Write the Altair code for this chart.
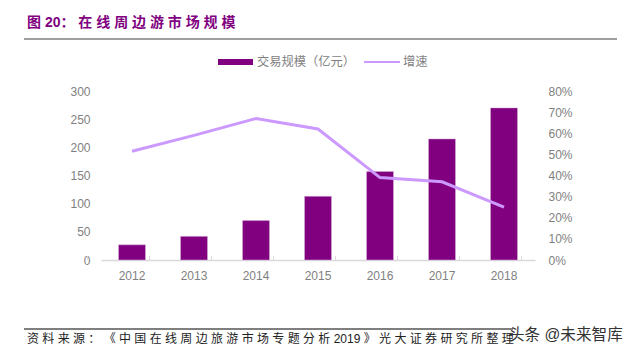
import altair as alt
import pandas as pd

years = ["2012", "2013", "2014", "2015", "2016", "2017", "2018"]
volume = [27, 42, 70, 113, 157, 215, 270]
growth = [0.515, 0.59, 0.67, 0.62, 0.39, 0.37, 0.25]
bar_name = "交易规模（亿元）"
line_name = "增速"
PURPLE = "#800080"
LILAC = "#cc99ff"
GREY = "#7f7f7f"
SANS = "Liberation Sans, Noto Sans CJK SC"
title_text = "图 20：  在 线 周 边 游 市 场 规 模"
source_text = "资 料 来 源 ： 《 中 国 在 线 周 边 旅 游 市 场 专 题 分 析  2019 》 光 大 证 券 研 究 所 整 理"
mark_text = "头条 @未来智库"

df = pd.DataFrame({"year": years, "volume": volume, "growth": growth})
W, H = 434, 169
L, T = 93, 83
INNER = 0.565
STEP = W / len(years)

x = alt.X("year:N", title=None, scale=alt.Scale(paddingInner=INNER, paddingOuter=INNER / 2),
          axis=alt.Axis(labelAngle=0, labelColor=GREY, labelFontSize=12, labelFont=SANS,
                        domainColor="#d9d9d9", domainWidth=1.5, ticks=False, labelPadding=10))
bars = alt.Chart(df).mark_bar(color=PURPLE, stroke="#d9b3d9", strokeWidth=0.5).encode(
    x=x,
    y=alt.Y("volume:Q", title=None,
            scale=alt.Scale(domain=[0, 300]),
            axis=alt.Axis(values=[0, 50, 100, 150, 200, 250, 300], grid=False, domain=False, ticks=False,
                          labelColor=GREY, labelFontSize=12, labelFont=SANS, labelPadding=11)),
)
ticks = alt.Chart(df).mark_rule(color="#d9d9d9", strokeWidth=1).encode(
    x=alt.X("year:N"), xOffset=alt.value(-STEP / 2), y=alt.value(H - 4), y2=alt.value(H))
last_tick = alt.Chart(df[df.year == years[-1]]).mark_rule(color="#d9d9d9", strokeWidth=1).encode(
    x=alt.X("year:N"), xOffset=alt.value(STEP / 2), y=alt.value(H - 4), y2=alt.value(H))
line = alt.Chart(df).mark_line(strokeWidth=3, color=LILAC).encode(
    x=alt.X("year:N"),
    y=alt.Y("growth:Q", title=None,
            scale=alt.Scale(domain=[0, 0.8]),
            axis=alt.Axis(format=".0%", values=[0, .1, .2, .3, .4, .5, .6, .7, .8], grid=False, domain=False,
                          ticks=False, orient="right", labelColor=GREY, labelFontSize=12,
                          labelFont=SANS, labelPadding=13)),
)
base = alt.layer(alt.layer(bars, ticks, last_tick), line).resolve_scale(y="independent")


def text(t, px, py, size, col, weight="normal", font=SANS):
    return alt.Chart(pd.DataFrame({"t": [t]})).mark_text(
        align="left", baseline="middle", fontSize=size, color=col, fontWeight=weight, font=font,
        limit=700,
    ).encode(text="t:N", x=alt.value(px - L - 8), y=alt.value(py - T - 8))


def rule(x0, x1, py, col, w):
    return alt.Chart(pd.DataFrame({"a": [0]})).mark_rule(color=col, strokeWidth=w).encode(
        x=alt.value(x0 - L - 8), x2=alt.value(x1 - L - 8), y=alt.value(py - T - 8))


chart = alt.layer(
    base,
    text(title_text, 27, 23, 14, PURPLE, "bold"),
    rule(24, 617, 39, "#7f7f7f", 1.5),
    rule(218, 253, 62, PURPLE, 6),
    text(bar_name, 257, 62, 12.25, GREY),
    rule(364, 400, 62, LILAC, 2),
    text(line_name, 403, 62, 12.25, GREY),
    rule(24, 513, 329, "#555555", 1.5),
    text(source_text, 27, 339, 12, "#222222"),
    text(mark_text, 509, 335, 15.6, "#333333"),
).properties(
    width=W, height=H,
    padding={"left": L, "top": T, "right": 635 - 16 - L - W, "bottom": 354 - 16 - T - H},
    autosize=alt.AutoSizeParams(type="none"),
).configure_view(stroke=None)

chart.save("out.html", embed_options={"renderer": "svg", "actions": False})
